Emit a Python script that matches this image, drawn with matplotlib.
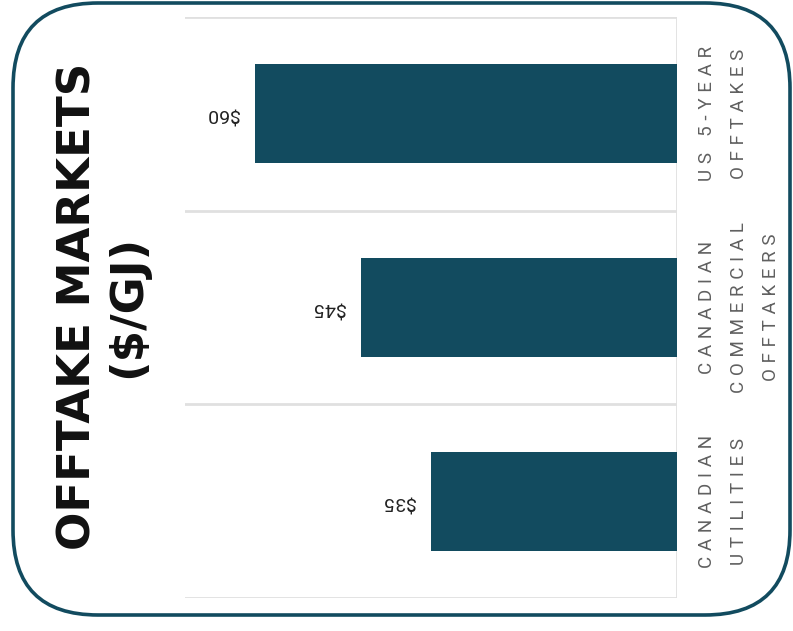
import matplotlib.pyplot as plt
import matplotlib.patches as mpatches
from matplotlib.transforms import IdentityTransform

# offtake prices, top to bottom
markets = ["US 5-YEAR\nOFFTAKES", "CANADIAN\nCOMMERCIAL\nOFFTAKERS", "CANADIAN\nUTILITIES"]
prices = [60, 45, 35]
price_labels = ["$60", "$45", "$35"]

title = "OFFTAKE MARKETS\n($/GJ)"

teal = "#124b5f"
grid_grey = "#e0e0e0"


def spaced(s, gap="\u2009\u200a"):
    # fake letter spacing by putting thin spaces between characters
    return "\n".join(gap.join(line) for line in s.split("\n"))


fig = plt.figure(figsize=(7.93, 6.31), dpi=100)
ax = fig.add_axes([185 / 793, 33 / 631, 492 / 793, 581 / 631])

ypos = list(range(len(markets)))
ax.barh(ypos, prices, height=0.51, color=teal, zorder=3)

ax.set_xlim(70, 0)
ax.set_ylim(len(markets) - 0.5, -0.5)

# band separators and baseline on the right
for b in [-0.5, 0.5, 1.5, 2.5]:
    ax.axhline(b, color=grid_grey, lw=2, zorder=1)
ax.axvline(0, color=grid_grey, lw=2, zorder=1)

for sp in ax.spines.values():
    sp.set_visible(False)
ax.set_xticks([])
ax.set_yticks([])

for y, v, lab in zip(ypos, prices, price_labels):
    ax.annotate(lab, (v, y), xytext=(-16, 0), textcoords="offset pixels",
                ha="right", va="center", rotation=180,
                fontsize=14, color="#222222",
                family=["Roboto", "DejaVu Sans"])

# category labels run up the right-hand side
for y, name in zip(ypos, markets):
    ax.annotate(spaced(name), (0, y), xytext=(21, 0), textcoords="offset pixels",
                ha="left", va="center", rotation=90, multialignment="center",
                fontsize=13.5, color="#606060", linespacing=2.0,
                family=["Roboto", "DejaVu Sans"])

fig.text(103 / 793, 1 - 306 / 631, title, ha="center", va="center",
         rotation=90, fontsize=32.5, fontweight="bold", color="#111111",
         linespacing=1.2, family=["DejaVu Sans"], multialignment="center")

frame = mpatches.FancyBboxPatch((13, 16), 777, 612,
                                boxstyle="round,pad=0,rounding_size=85",
                                transform=IdentityTransform(),
                                facecolor="none", edgecolor=teal, lw=2.6)
fig.add_artist(frame)

fig.savefig("out.png", dpi=100)
